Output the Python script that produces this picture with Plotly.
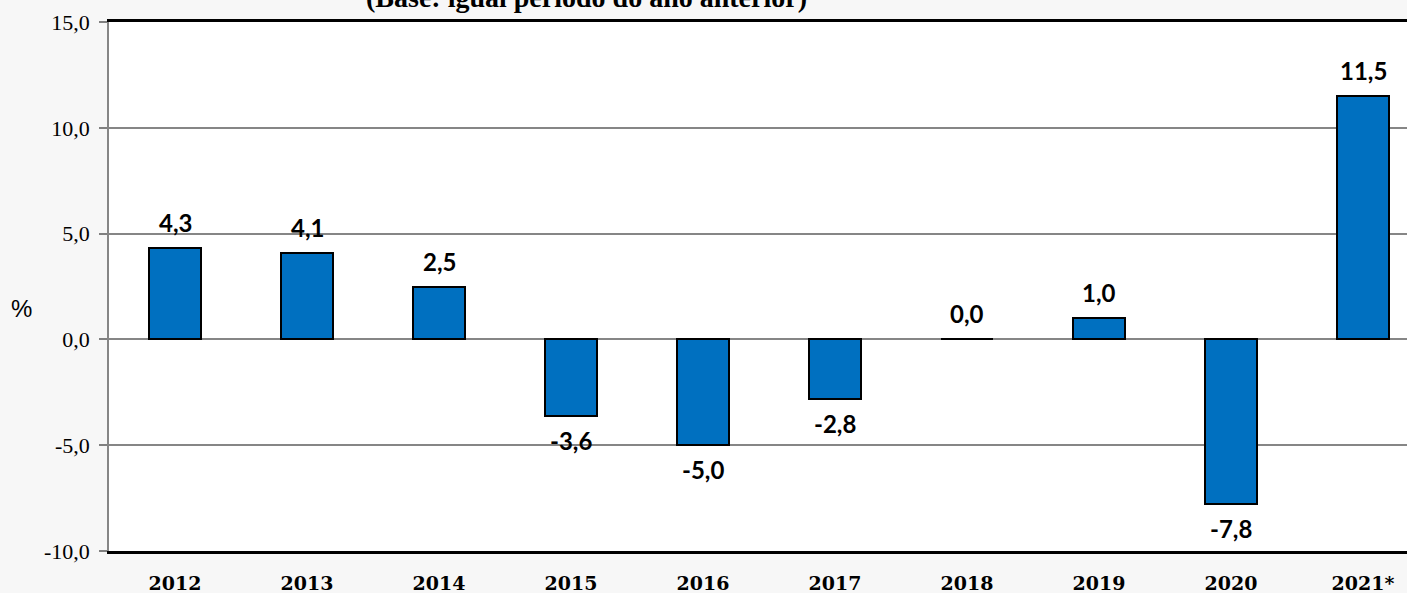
import plotly.graph_objects as go

# Annual variation (%) by year
years = ["2012", "2013", "2014", "2015", "2016", "2017", "2018", "2019", "2020", "2021*"]
values = [4.3, 4.1, 2.5, -3.6, -5.0, -2.8, 0.0, 1.0, -7.8, 11.5]
y_ticks = [-10, -5, 0, 5, 10, 15]
y_tick_labels = ["-10,0", "-5,0", "0,0", "5,0", "10,0", "15,0"]

W, H = 1407, 593
ML, MR, MT, MB = 109, 0, 22, 42
plot_w = W - ML - MR
cat_px = 132.0
x_pos = list(range(len(years)))
x_range = [-0.5, -0.5 + plot_w / cat_px]


def fmt(v):
    return f"{v:.1f}".replace(".", ",")


fig = go.Figure()
fig.add_trace(go.Bar(
    x=x_pos, y=values, width=0.4,
    marker=dict(color="#0070C0", line=dict(color="#000000", width=2)),
    hoverinfo="skip",
))

label_font = dict(family="Lato", size=24, color="#000000")
for xi, v in zip(x_pos, values):
    if v >= 0:
        fig.add_annotation(x=xi, y=v, text=f"<b>{fmt(v)}</b>", showarrow=False,
                           yanchor="bottom", yshift=9, font=label_font)
    else:
        fig.add_annotation(x=xi, y=v, text=f"<b>{fmt(v)}</b>", showarrow=False,
                           yanchor="top", yshift=-8, font=label_font)

# axis title and subtitle
fig.add_annotation(xref="paper", yref="paper", x=(21 - ML) / plot_w, y=0.0,
                   yshift=(H - MB) - 308, text="%", showarrow=False,
                   xanchor="center", yanchor="middle",
                   font=dict(family="Liberation Sans", size=24, color="#000000"))
fig.add_annotation(xref="paper", yref="paper", x=(586 - ML) / plot_w, y=1.0,
                   yshift=7, text="<b>(Base: igual período do ano anterior)</b>",
                   showarrow=False, xanchor="center", yanchor="bottom",
                   font=dict(family="Liberation Serif", size=28, color="#000000"))

fig.update_layout(
    width=W, height=H,
    margin=dict(l=ML, r=MR, t=MT, b=MB, pad=0),
    paper_bgcolor="#F7F7F7", plot_bgcolor="#FFFFFF",
    showlegend=False, bargap=0,
    xaxis=dict(
        range=x_range, tickvals=x_pos, ticktext=years, ticks="",
        showgrid=False, zeroline=False,
        showline=True, linecolor="#000000", linewidth=2.5, mirror=True,
        ticklabelstandoff=13,
        tickfont=dict(family="DejaVu Serif", size=19, color="#000000", weight="bold"),
        fixedrange=True,
    ),
    xaxis2=dict(
        overlaying="x", anchor="free", position=10 / 25, side="bottom",
        range=x_range, tickvals=[i + 0.5 for i in x_pos[:-1]],
        ticks="outside", ticklen=6, tickwidth=1.5, tickcolor="#808080",
        showticklabels=False, showgrid=False, zeroline=False, showline=False,
        fixedrange=True,
    ),
    yaxis=dict(
        range=[-10, 15], tickvals=y_ticks, ticktext=y_tick_labels,
        ticks="outside", ticklen=8, tickwidth=1.5, tickcolor="#808080",
        showgrid=True, gridcolor="#868686", gridwidth=1.6,
        zeroline=True, zerolinecolor="#868686", zerolinewidth=1.6,
        showline=True, linecolor="#868686", linewidth=1.6,
        ticklabelstandoff=5,
        tickfont=dict(family="Liberation Serif", size=22, color="#000000"),
        fixedrange=True,
    ),
)

fig.write_html("out.html", config={"displayModeBar": False})
